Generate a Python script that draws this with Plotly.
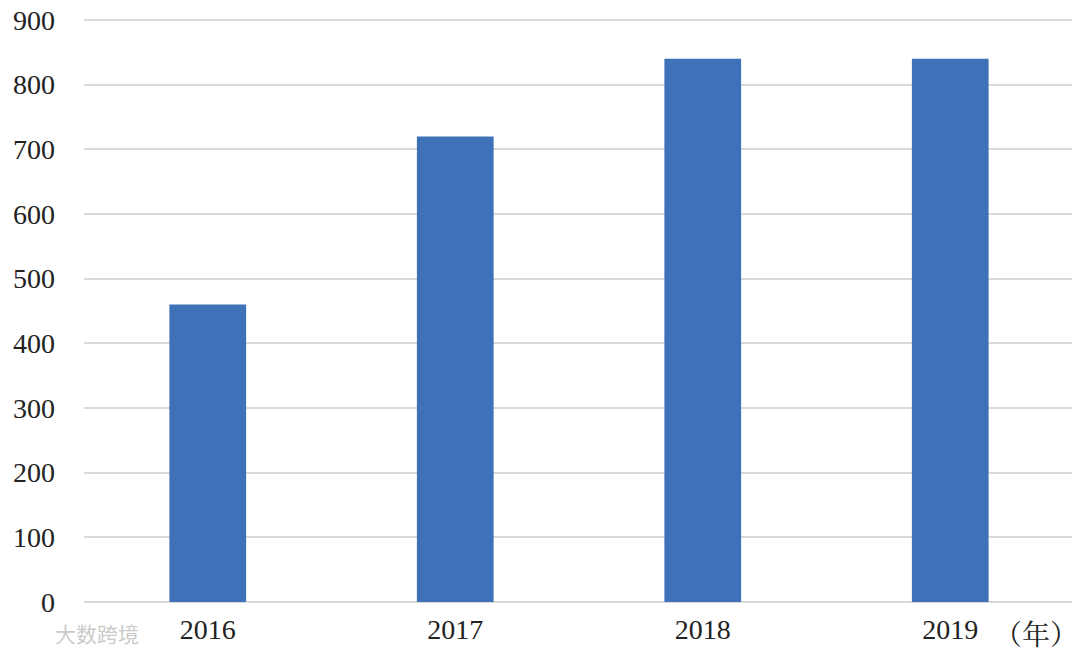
import plotly.graph_objects as go

years = ["2016", "2017", "2018", "2019"]
values = [460, 720, 840, 840]
y_ticks = [0, 100, 200, 300, 400, 500, 600, 700, 800, 900]

fig = go.Figure()
fig.add_trace(go.Bar(
    x=years, y=values,
    marker=dict(color="#3F71B8", line=dict(width=0)),
    width=0.31,
))

font_serif = "Liberation Serif, Times New Roman, serif"

# page body has an 8px margin, so the figure is drawn 8px smaller and offset
fig.update_layout(
    width=1072, height=645,
    margin=dict(l=76, r=6, t=10, b=51),
    paper_bgcolor="white", plot_bgcolor="white",
    showlegend=False,
    font=dict(family=font_serif, size=28, color="#222222"),
    xaxis=dict(
        type="category", showgrid=False, showline=False, zeroline=False,
        ticks="", tickfont=dict(family=font_serif, size=28, color="#222222"),
        ticklabelstandoff=8, automargin=False, ticklabeloverflow="allow",
    ),
    yaxis=dict(
        range=[0, 903.1], tickvals=y_ticks, showgrid=True,
        gridcolor="#DADADA", gridwidth=2, zeroline=True, zerolinecolor="#DADADA",
        zerolinewidth=2, showline=False, ticks="",
        tickfont=dict(family=font_serif, size=28, color="#222222"),
        ticklabelstandoff=28, automargin=False, ticklabeloverflow="allow",
    ),
)

fig.add_annotation(
    text="（年）", xref="paper", yref="paper", x=(1036 - 84) / 990, y=0, yshift=-31,
    xanchor="center", yanchor="middle", showarrow=False,
    font=dict(family="Noto Serif CJK SC, Noto Sans CJK SC, serif", size=28, color="#222222"),
)
fig.add_annotation(
    text="大数跨境", xref="paper", yref="paper", x=(97 - 84) / 990, y=0, yshift=-31,
    xanchor="center", yanchor="middle", showarrow=False,
    font=dict(family="Noto Sans CJK SC", size=21, color="rgba(195,195,195,0.9)"),
)

fig.write_html("out.html")
